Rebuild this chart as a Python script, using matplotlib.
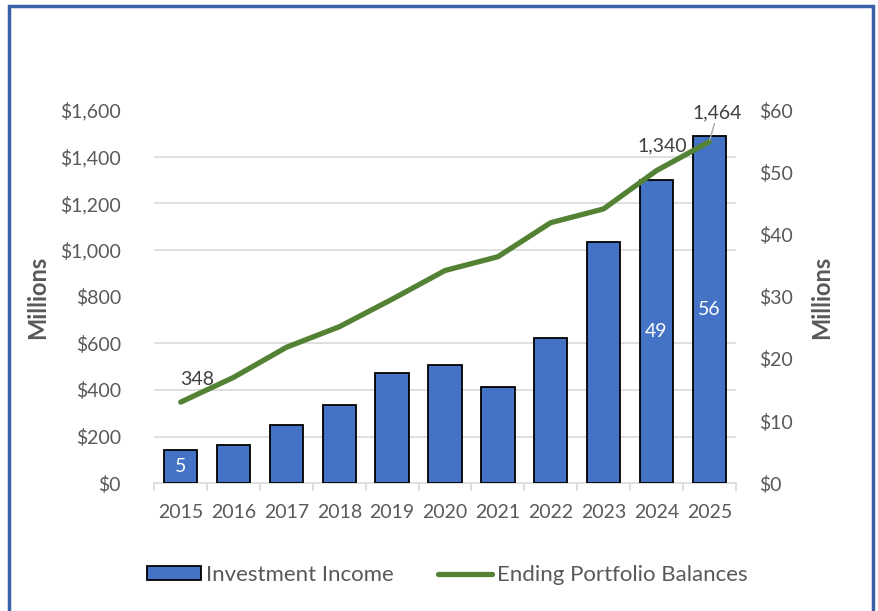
import matplotlib
matplotlib.use('Agg')
import matplotlib.pyplot as plt
from matplotlib.patches import Rectangle
from matplotlib.ticker import MultipleLocator, FuncFormatter

plt.rcParams['font.family'] = ['Lato', 'DejaVu Sans']

# data (millions)
years = ['2015', '2016', '2017', '2018', '2019', '2020', '2021', '2022', '2023', '2024', '2025']
investment_income = [5.4, 6.2, 9.3, 12.6, 17.8, 19.0, 15.4, 23.4, 38.8, 48.7, 55.9]
portfolio_balances = [348, 454, 583, 671, 789, 912, 971, 1117, 1176, 1340, 1464]
income_labeled = [0, 9, 10]
balance_labeled = [0, 9, 10]

grey_text = '#595959'
grid_col = '#d9d9d9'

fig = plt.figure(figsize=(8.79, 6.11), dpi=100)
ax = fig.add_axes([154.3 / 879, 127.7 / 611, 581.4 / 879, 373.3 / 611])  # bars, right scale
ax2 = ax.twinx()  # line, left scale
ax2.set_zorder(ax.zorder + 1)
ax2.patch.set_visible(False)

x = list(range(len(years)))
ax.bar(x, investment_income, width=0.63, color='#4472C4', edgecolor='black',
       linewidth=1.3, zorder=3, label='Investment Income')
ax2.plot(x, portfolio_balances, color='#548235', linewidth=3.8,
         solid_capstyle='round', label='Ending Portfolio Balances')

ax.set_xlim(-0.5, len(years) - 0.5)
ax.set_ylim(0, 60)
ax2.set_ylim(0, 1600)

# right axis ($0-$60)
ax.yaxis.tick_right()
ax.yaxis.set_major_locator(MultipleLocator(10))
ax.yaxis.set_major_formatter(FuncFormatter(lambda v, p: f'${v:,.0f}'))
ax.yaxis.set_minor_locator(MultipleLocator(7.5))
ax.grid(which='minor', axis='y', color=grid_col, linewidth=1.2, zorder=0)
ax.set_axisbelow(True)
ax.tick_params(axis='y', which='both', length=0, pad=17, labelsize=14, labelcolor=grey_text)

# left axis ($0-$1,600)
ax2.yaxis.tick_left()
ax2.yaxis.set_major_locator(MultipleLocator(200))
ax2.yaxis.set_major_formatter(FuncFormatter(lambda v, p: f'${v:,.0f}'))
ax2.tick_params(axis='y', length=0, pad=24, labelsize=14, labelcolor=grey_text)

# x axis
ax.set_xticks(x)
ax.set_xticklabels(years)
ax.set_xticks([i - 0.5 for i in range(len(years) + 1)], minor=True)
ax.tick_params(axis='x', which='major', length=0, pad=15, labelsize=14, labelcolor=grey_text)
ax.tick_params(axis='x', which='minor', length=5.5, width=1.2, color=grid_col)

for a in (ax, ax2):
    for side in ('top', 'left', 'right'):
        a.spines[side].set_visible(False)
    a.spines['bottom'].set_color(grid_col)
    a.spines['bottom'].set_linewidth(1.2)
ax2.spines['bottom'].set_visible(False)
ax2.tick_params(axis='x', which='both', length=0)

# data labels
for i in income_labeled:
    ax.text(x[i], investment_income[i] / 2, f'{investment_income[i]:.0f}', ha='center', va='center',
            color='white', fontsize=14, zorder=5)

label_offsets = {0: (12, 10), 9: (4, 12), 10: (6, 15)}
for i in balance_labeled:
    dx, dy = label_offsets[i]
    arrow = dict(arrowstyle='-', color='#a6a6a6', lw=1, shrinkA=0, shrinkB=1) if i == 10 else None
    ax2.annotate(f'{portfolio_balances[i]:,}', (x[i], portfolio_balances[i]),
                 xytext=(dx, dy), textcoords='offset points', ha='center', va='bottom',
                 color='#404040', fontsize=14, arrowprops=arrow)

fig.text(38 / 879, 1 - 297 / 611, 'Millions', rotation=90, ha='center', va='center',
         fontsize=17, fontweight='bold', color=grey_text)
fig.text(822 / 879, 1 - 297 / 611, 'Millions', rotation=90, ha='center', va='center',
         fontsize=17, fontweight='bold', color=grey_text)

h1, l1 = ax.get_legend_handles_labels()
h2, l2 = ax2.get_legend_handles_labels()
fig.legend(h1 + h2, l1 + l2, loc='center', bbox_to_anchor=(447.5 / 879, 1 - 575 / 611),
           ncol=2, frameon=False, fontsize=16, handlelength=2.4, handleheight=0.6,
           handletextpad=0.25, columnspacing=2.0, labelcolor=grey_text)

# outer border
fig.patches.append(Rectangle((9 / 879, -0.05), 864 / 879, 1.05 - 6 / 611, transform=fig.transFigure,
                             fill=False, edgecolor='#3A60A8', linewidth=2.5))

fig.savefig('out.png', dpi=100)
